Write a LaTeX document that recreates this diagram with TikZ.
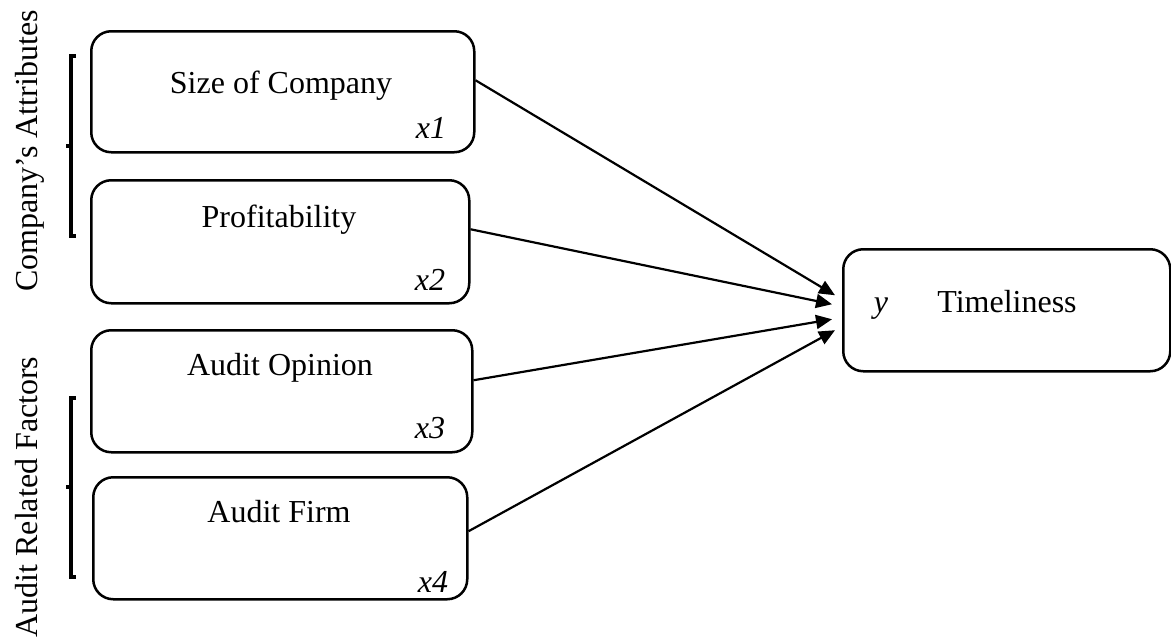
\documentclass[tikz,border=0pt]{standalone}
\usepackage{fontspec}
\setmainfont{Liberation Serif}
\usetikzlibrary{arrows.meta}
\begin{document}
\begin{tikzpicture}[x=1pt,y=-1pt,
  box/.style={draw, line width=2.5pt, rounded corners=20pt, rectangle, anchor=north west, inner sep=0pt},
  txt/.style={anchor=base, inner sep=0pt, font=\fontsize{32}{38}\selectfont},
  var/.style={anchor=base, inner sep=0pt, font=\fontsize{32}{38}\selectfont\itshape},
  side/.style={anchor=base, rotate=90, inner sep=0pt, font=\fontsize{32}{38}\selectfont},
  brk/.style={line width=3.4pt},
  arr/.style={line width=2.2pt, -{Triangle[length=16pt,width=14pt]}}]
\useasboundingbox (0,0) rectangle (1171,640);
% boxes
\node[box, minimum width=383pt, minimum height=121pt] (b1) at (90,30) {};
\node[box, minimum width=378pt, minimum height=123pt] (b2) at (90,179) {};
\node[box, minimum width=381pt, minimum height=122pt] (b3) at (90,329) {};
\node[box, minimum width=374pt, minimum height=122pt] (b4) at (92,476) {};
\node[box, minimum width=327pt, minimum height=122pt] (yb) at (842,248) {};
% texts
\node[txt] (t1) at (281,93) {Size of Company};
\node[txt] (t2) at (279,227) {Profitability};
\node[txt] (t3) at (280,375) {Audit Opinion};
\node[txt] (t4) at (279,522) {Audit Firm};
\node[txt] (ty) at (1007,312) {Timeliness};
\node[var] (v1) at (431,138) {x1};
\node[var] (v2) at (430,290) {x2};
\node[var] (v3) at (430,438) {x3};
\node[var] (v4) at (433,592) {x4};
\node[var] (vy) at (881,312) {y};
% side labels
\node[side] (ca) at (37,151) {Company’s Attributes};
\node[side] (ar) at (37,497) {Audit Related Factors};
% brackets
\draw[brk] (76,56) -- (71,56) -- (71,236) -- (76,236);
\draw[brk] (71,146) -- (66,146);
\draw[brk] (76,398) -- (71,398) -- (71,577) -- (76,577);
\draw[brk] (71,487) -- (66,487);
% arrows
\draw[arr] ([yshift=11.5pt]b1.east) -- ([xshift=-7pt,yshift=15pt]yb.west);
\draw[arr] ([yshift=12.5pt]b2.east) -- ([xshift=-10pt,yshift=6pt]yb.west);
\draw[arr] ([yshift=11pt]b3.east) -- ([xshift=-10pt,yshift=-9pt]yb.west);
\draw[arr] ([yshift=7pt]b4.east) -- ([xshift=-7pt,yshift=-20pt]yb.west);
\end{tikzpicture}
\end{document}
